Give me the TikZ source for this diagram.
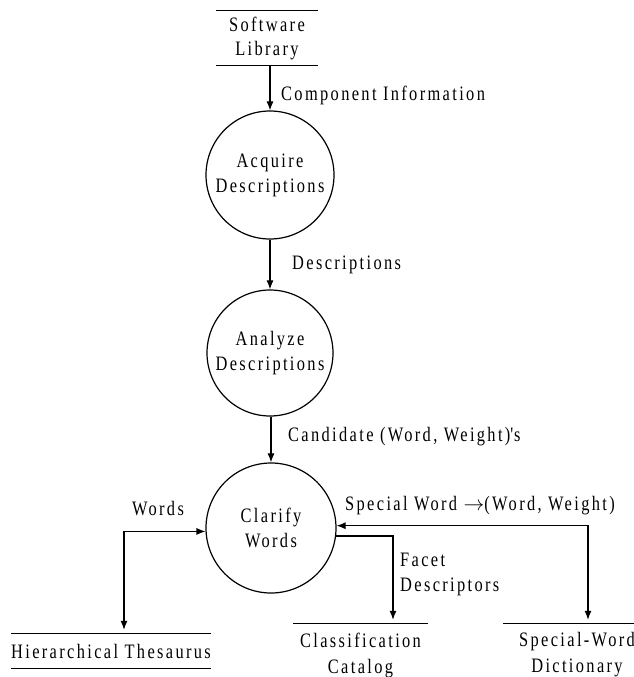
\documentclass[tikz,border=0pt]{standalone}
\usepackage{fontspec}
\setmainfont{Liberation Serif}[FakeStretch=0.8,LetterSpace=11.5,Ligatures=NoCommon]
\usetikzlibrary{arrows.meta,calc}
\begin{document}
\begin{tikzpicture}[x=1pt,y=-1pt,
  every node/.style={font=\fontsize{20.5}{25}\selectfont, inner sep=0pt},
  proc/.style={circle,draw,line width=1.2pt,minimum size=128pt,align=center},
  store/.style={align=center},
  lbl/.style={anchor=west},
  storeline/.style={line width=1.3pt},
  flow/.style={line width=1.1pt,-{Latex[length=9pt,width=7pt]}},
  flowtwo/.style={line width=1.1pt,{Latex[length=9pt,width=7pt]}-{Latex[length=9pt,width=7pt]}}]
\useasboundingbox (0,0) rectangle (633,677);
% stores
\node[store,minimum width=102pt,minimum height=54pt,font=\fontsize{20.5}{24}\selectfont] (sl) at (267,38) {Software\\Library};
\draw[storeline] (sl.north west) -- (sl.north east) (sl.south west) -- (sl.south east);
\node[store,minimum width=198pt,minimum height=34pt] (ht) at (111,651) {Hierarchical Thesaurus};
\draw[storeline] (ht.north west) -- (ht.north east) (ht.south west) -- (ht.south east);
\node[store,minimum width=135pt,minimum height=62pt,font=\fontsize{20.5}{26}\selectfont] (cc) at (360.5,655) {Classification\\Catalog};
\draw[storeline] (cc.north west) -- (cc.north east);
\node[store,minimum width=148pt,minimum height=62pt,font=\fontsize{20.5}{26}\selectfont] (swd) at (577,655) {Special-Word\\Dictionary};
\draw[storeline] (swd.north west) -- (swd.north east);
% processes
\node[proc] (acq) at (270,175) {Acquire\\Descriptions};
\node[proc,minimum size=126pt] (ana) at (270,353) {Analyze\\Descriptions};
\node[proc,minimum size=130pt] (cla) at (271,528) {Clarify\\Words};
% labels
\node[lbl] (l1) at (281,95) {Component Information};
\node[lbl] (l2) at (292,265) {Descriptions};
\node[lbl] (l3) at (288,437) {Candidate (Word, Weight)\textquotesingle s};
\node (l4) at (158,509) {Words};
\node[lbl] (l5) at (345,506) {Special Word $\rightarrow$(Word, Weight)};
\node[lbl,align=left] (l6) at (400,574) {Facet\\Descriptors};
% connectors
\coordinate (htin) at ($(ht.north)+(13,0)$);
\coordinate (ccin) at ($(cc.north)+(32.5,0)$);
\coordinate (swdin) at ($(swd.north)+(11,0)$);
\draw[flow] (acq.north |- sl.south) -- (acq.north);
\draw[flow] (acq.south) -- (ana.north);
\draw[flow] (ana.south -| cla.north) -- (cla.north);
\draw[flowtwo,shorten <=4pt] (htin) |- (cla.183);
\draw[flowtwo,shorten >=4pt] (cla.2) -| (swdin);
\draw[flow,shorten >=4pt] (cla.-7) -| (ccin);
\end{tikzpicture}
\end{document}
